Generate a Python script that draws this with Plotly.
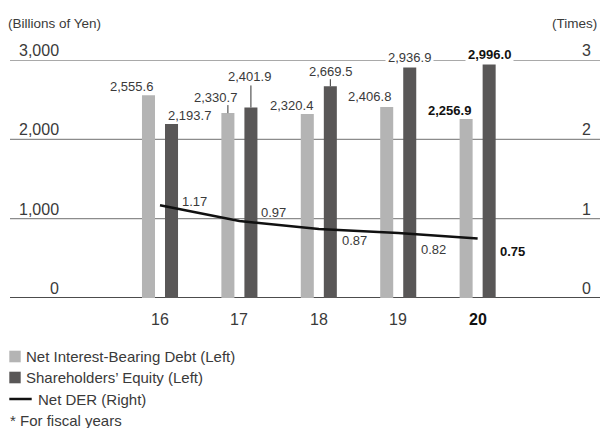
import plotly.graph_objects as go

# ---- data ----
years = [16, 17, 18, 19, 20]
year_labels = ["16", "17", "18", "19", "20"]
net_debt = [2555.6, 2330.7, 2320.4, 2406.8, 2256.9]
equity = [2193.7, 2401.9, 2669.5, 2936.9, 2996.0]
net_der = [1.17, 0.97, 0.87, 0.82, 0.75]
left_ticks = [0, 1000, 2000, 3000]
right_ticks = [0, 1, 2, 3]

# ---- styling ----
W, H = 603, 428
ML, MR, MT, MB = 10, 3, 60, 130
PW, PH = W - ML - MR, H - MT - MB
FONT = "Liberation Sans, Arial, sans-serif"
TXT = "#3a3a3a"
LIGHT = "#b4b4b4"
DARK = "#595757"
BAR_W = 0.164
OFF_LIGHT = -0.227
OFF_DARK = 0.063

# label offsets (px) for each bar label
debt_dx = [-17, -12.5, -16, -17.5, -17]
debt_dy = [9, 16, 8, 11, 8]
eq_dx = [17.5, -1, 0, 0, 0]
eq_dy = [8, 30.5, 15, 8, 6]
debt_leader = [0, 8, 0, 0, 0]
eq_leader = [0, 22, 7, 0, 0]
eq_bg = [False, False, False, True, True]
der_dx = [20, 19.5, 21.5, 20.5, 20]
der_dy = [4, 8.5, -12, -16.5, -12.5]


def px_x(px):
    return (px - ML) / PW


def px_y(py):
    return (H - MB - py) / PH


def fmt(v):
    return f"{v:,.1f}"


fig = go.Figure()

fig.add_trace(go.Bar(
    x=years, y=net_debt, width=BAR_W, offset=OFF_LIGHT,
    marker=dict(color=LIGHT, line=dict(width=0)),
    name="Net Interest-Bearing Debt (Left)", showlegend=False,
))
fig.add_trace(go.Bar(
    x=years, y=equity, width=BAR_W, offset=OFF_DARK,
    marker=dict(color=DARK, line=dict(width=0)),
    name="Shareholders\u2019 Equity (Left)", showlegend=False,
))
fig.add_trace(go.Scatter(
    x=years, y=net_der, yaxis="y2", mode="lines",
    line=dict(color="#111111", width=2.5),
    name="Net DER (Right)", showlegend=False,
))

annotations = []
shapes = []
last = len(years) - 1

# horizontal gridlines behind the bars; the zero line is black
for v in left_ticks:
    shapes.append(dict(
        type="line", xref="paper", yref="y", layer="below",
        x0=0, x1=1, y0=v, y1=v,
        line=dict(color="#111111" if v == 0 else "#8c8c8c", width=1.3),
    ))

for i, yr in enumerate(years):
    bold = i == last
    # fiscal-year labels under the axis (latest year in bold)
    annotations.append(dict(
        x=yr, y=0, xref="x", yref="y",
        text=f"<b>{year_labels[i]}</b>" if bold else year_labels[i],
        showarrow=False, xanchor="center", yanchor="middle", yshift=-21,
        font=dict(size=16, color="#111" if bold else TXT, family=FONT),
    ))
    # net interest-bearing debt labels
    xc = yr + OFF_LIGHT + BAR_W / 2
    txt = fmt(net_debt[i])
    annotations.append(dict(
        x=xc, y=net_debt[i], xref="x", yref="y",
        text=f"<b>{txt}</b>" if bold else txt, showarrow=False,
        xanchor="center", yanchor="middle",
        xshift=debt_dx[i], yshift=debt_dy[i],
        font=dict(size=13, color="#111" if bold else TXT, family=FONT),
    ))
    if debt_leader[i]:
        shapes.append(dict(
            type="line", xref="x", yref="y", ysizemode="pixel",
            yanchor=net_debt[i], x0=xc, x1=xc, y0=0, y1=debt_leader[i],
            line=dict(color="#333", width=1),
        ))
    # shareholders' equity labels
    xc = yr + OFF_DARK + BAR_W / 2
    txt = fmt(equity[i])
    annotations.append(dict(
        x=xc, y=equity[i], xref="x", yref="y",
        text=f"<b>{txt}</b>" if bold else txt, showarrow=False,
        xanchor="center", yanchor="middle",
        xshift=eq_dx[i], yshift=eq_dy[i],
        bgcolor="white" if eq_bg[i] else None, borderpad=2,
        font=dict(size=13, color="#111" if bold else TXT, family=FONT),
    ))
    if eq_leader[i]:
        shapes.append(dict(
            type="line", xref="x", yref="y", ysizemode="pixel",
            yanchor=equity[i], x0=xc, x1=xc, y0=0, y1=eq_leader[i],
            line=dict(color="#333", width=1),
        ))
    # net DER labels
    txt = f"{net_der[i]:.2f}"
    annotations.append(dict(
        x=yr, y=net_der[i], xref="x", yref="y2",
        text=f"<b>{txt}</b>" if bold else txt, showarrow=False,
        xanchor="left", yanchor="middle",
        xshift=der_dx[i], yshift=der_dy[i],
        font=dict(size=13, color="#111" if bold else TXT, family=FONT),
    ))

# axis value labels sitting above the gridlines
for v in left_ticks:
    annotations.append(dict(
        x=px_x(61), y=v, xref="paper", yref="y",
        text=f"{v:,}", showarrow=False, xanchor="right", yanchor="bottom",
        yshift=-1, font=dict(size=16, color=TXT, family=FONT),
    ))
for v in right_ticks:
    annotations.append(dict(
        x=px_x(593), y=v, xref="paper", yref="y2",
        text=f"{v}", showarrow=False, xanchor="right", yanchor="bottom",
        yshift=-1, font=dict(size=16, color=TXT, family=FONT),
    ))

# unit labels
annotations.append(dict(
    x=px_x(6), y=px_y(23), xref="paper", yref="paper", text="(Billions of Yen)",
    showarrow=False, xanchor="left", yanchor="middle",
    font=dict(size=13.5, color=TXT, family=FONT),
))
annotations.append(dict(
    x=px_x(599), y=px_y(23), xref="paper", yref="paper", text="(Times)",
    showarrow=False, xanchor="right", yanchor="middle",
    font=dict(size=13.5, color=TXT, family=FONT),
))

# legend drawn beneath the chart
legend_items = [
    ("box", LIGHT, "Net Interest-Bearing Debt (Left)", 356.5),
    ("box", DARK, "Shareholders\u2019 Equity (Left)", 377.5),
    ("line", "#111111", "Net DER (Right)", 399),
]
for kind, col, label, cy in legend_items:
    if kind == "box":
        shapes.append(dict(
            type="rect", xref="paper", yref="paper",
            x0=px_x(9.3), x1=px_x(20.7), y0=px_y(cy - 5.8), y1=px_y(cy + 5.8),
            fillcolor=col, line=dict(width=0),
        ))
        tx = 24
    else:
        shapes.append(dict(
            type="line", xref="paper", yref="paper",
            x0=px_x(9.3), x1=px_x(31.7), y0=px_y(cy), y1=px_y(cy),
            line=dict(color=col, width=2.5),
        ))
        tx = 36
    annotations.append(dict(
        x=px_x(tx), y=px_y(cy), xref="paper", yref="paper", text=label,
        showarrow=False, xanchor="left", yanchor="middle",
        font=dict(size=15, color=TXT, family=FONT),
    ))
annotations.append(dict(
    x=px_x(8), y=px_y(420), xref="paper", yref="paper", text="* For fiscal years",
    showarrow=False, xanchor="left", yanchor="middle",
    font=dict(size=15, color=TXT, family=FONT),
))

fig.update_layout(
    width=W, height=H,
    margin=dict(l=ML, r=MR, t=MT, b=MB, pad=0),
    paper_bgcolor="white", plot_bgcolor="rgba(0,0,0,0)",
    barmode="overlay",
    xaxis=dict(
        range=[14.111, 21.541], showticklabels=False,
        showgrid=False, zeroline=False, showline=False, ticks="",
    ),
    yaxis=dict(
        range=[0, 3000], showticklabels=False,
        showgrid=False, zeroline=False, showline=False, ticks="",
    ),
    yaxis2=dict(
        range=[0, 3], overlaying="y", side="right",
        showticklabels=False, showgrid=False, zeroline=False, showline=False,
    ),
    annotations=annotations,
    shapes=shapes,
    font=dict(family=FONT, color=TXT),
)

fig.write_html("out.html")
